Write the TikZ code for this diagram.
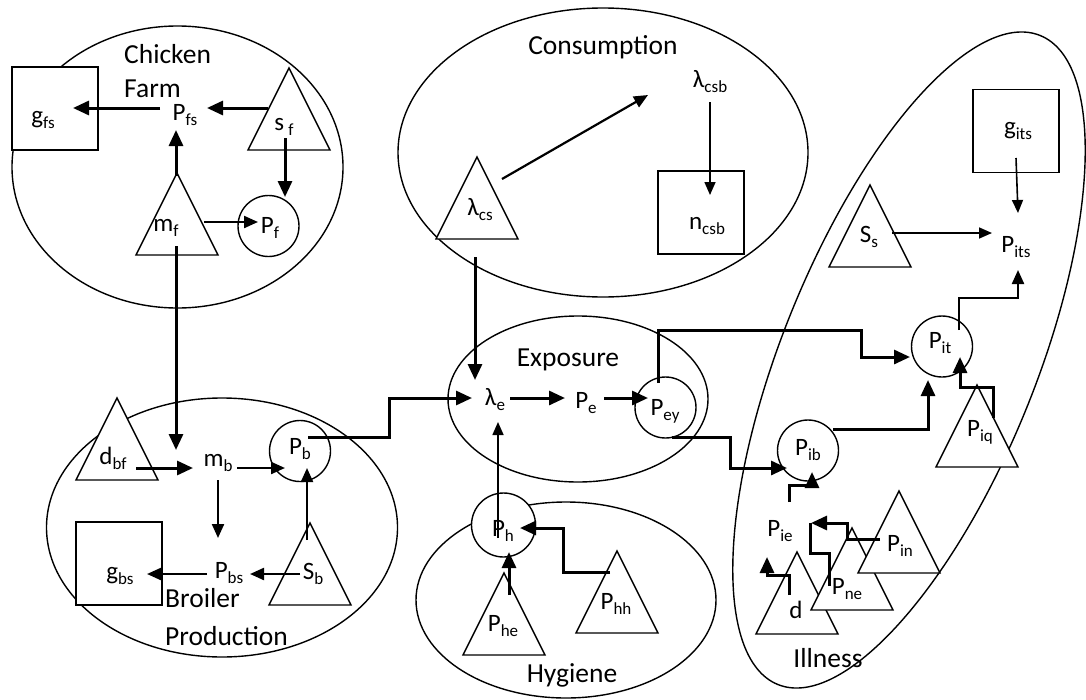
\documentclass[tikz,border=0pt]{standalone}
\usepackage{fontspec}
\setmainfont{Carlito}
\usetikzlibrary{arrows.meta,shapes.geometric}
\newcommand{\sbs}[1]{\raisebox{-5pt}{\fontsize{17}{17}\selectfont #1}}
\newcommand{\trishape}[3]{\draw[shp] (#2,#3) coordinate (#1) -- ++(41,82) -- ++(-82,0) -- cycle;}
\tikzset{
  shp/.style={line width=1.4pt, fill=white},
  region/.style={draw, ellipse, line width=1.4pt, inner sep=0pt, outer sep=0pt},
  boxshape/.style={shp, draw, rectangle, inner sep=0pt, minimum width=86, minimum height=83},
  circshape/.style={shp, draw, circle, inner sep=0pt, minimum size=61},
  lbl/.style={font=\fontsize{27.5}{30}\selectfont, inner sep=0pt},
  var/.style={font=\fontsize{25}{28}\selectfont, inner sep=0pt},
  thk/.style={line width=3pt, -{Triangle[length=16pt,width=14pt]}},
  mid/.style={line width=2.2pt, -{Triangle[length=14pt,width=12pt]}},
  thn/.style={line width=1.6pt, -{Triangle[length=13pt,width=11pt]}},
  thkline/.style={line width=3pt},
}
\begin{document}
\begin{tikzpicture}[x=1pt,y=-1pt]
\useasboundingbox (0,0) rectangle (1086,699);
% regions
\node[region, minimum width=331, minimum height=282] (chick) at (177.5,167) {};
\node[region, minimum width=351, minimum height=259] (broil) at (222,527.5) {};
\node[region, minimum width=410, minimum height=289] (consum) at (603,152.5) {};
\node[region, minimum width=260, minimum height=166] (expo) at (578,399) {};
\node[region, minimum width=300, minimum height=196] (hyg) at (566,600) {};
\node[region, minimum width=700, minimum height=254, rotate=68] (ill) at (909,360) {};
% boxes
\node[boxshape] (gfs) at (55,108.5) {};
\node[boxshape] (gbs) at (119,563.5) {};
\node[boxshape] (ncsb) at (701,212.5) {};
\node[boxshape] (gits) at (1016,131) {};
% triangles
\trishape{sf}{289}{68}
\trishape{mf}{177}{173}
\trishape{dbf}{117}{398}
\trishape{Sb}{310}{523}
\trishape{lcs}{477}{157}
\trishape{Phe}{504}{573}
\trishape{Phh}{617}{551}
\trishape{Ss}{870}{185}
\trishape{Piq}{977}{385}
\trishape{dd}{797}{552}
\trishape{Pne}{852}{528}
\trishape{Pin}{899}{491}
% circles
\node[circshape] (Pfc) at (268.5,226) {};
\node[circshape] (Pbc) at (300,451) {};
\node[circshape] (Peyc) at (665.5,407.5) {};
\node[circshape, minimum size=64] (Phc) at (503.5,525) {};
\node[circshape] (Pitc) at (942,346.5) {};
\node[circshape] (Pibc) at (808,450.5) {};
% labels
\node[lbl, anchor=west] (tChicken) at (124,54) {Chicken};
\node[lbl, anchor=west] (tFarm) at (124,89) {Farm};
\node[lbl, anchor=west] (tBroiler) at (165,598) {Broiler};
\node[lbl, anchor=west] (tProduction) at (165,636) {Production};
\node[lbl] (tConsumption) at (603,47) {Consumption};
\node[lbl] (tExposure) at (568,360) {Exposure};
\node[lbl] (tHygiene) at (572,675) {Hygiene};
\node[lbl] (tIllness) at (828,658) {Illness};
% variables
\node[var] (tgfs) at (43,120) {g\sbs{fs}};
\node[var] (tPfs) at (185,115) {P\sbs{fs}};
\node[var] (tsf) at (284,127) {s\,\sbs{f}};
\node[var] (tmf) at (166,228) {m\sbs{f}};
\node[var] (tPf) at (270,228) {P\sbs{f}};
\node[var] (tdbf) at (113,458) {d\sbs{bf}};
\node[var] (tmb) at (218,463) {m\sbs{b}};
\node[var] (tPb) at (300,449) {P\sbs{b}};
\node[var] (tgbs) at (120,576) {g\sbs{bs}};
\node[var] (tPbs) at (229,573) {P\sbs{bs}};
\node[var] (tSb) at (313,574) {S\sbs{b}};
\node[var] (tlcs) at (480,210) {λ\sbs{cs}};
\node[var] (tlcsb) at (710,82) {λ\sbs{csb}};
\node[var] (tncsb) at (707,226) {n\sbs{csb}};
\node[var] (tle) at (495,400) {λ\sbs{e}};
\node[var] (tPe) at (586,403) {P\sbs{e}};
\node[var] (tPey) at (665,411) {P\sbs{ey}};
\node[var] (tPh) at (503,531) {P\sbs{h}};
\node[var] (tPhe) at (503,626) {P\sbs{he}};
\node[var] (tPhh) at (616,604) {P\sbs{hh}};
\node[var] (tgits) at (1018,131) {g\sbs{its}};
\node[var] (tSs) at (869,237) {S\sbs{s}};
\node[var] (tPits) at (1016,247) {P\sbs{its}};
\node[var] (tPit) at (940,343) {P\sbs{it}};
\node[var] (tPib) at (808,450) {P\sbs{ib}};
\node[var] (tPiq) at (980,432) {P\sbs{iq}};
\node[var] (tPie) at (780,531) {P\sbs{ie}};
\node[var] (td) at (796,610) {d};
\node[var] (tPne) at (847,589) {P\sbs{ne}};
\node[var] (tPin) at (900,546) {P\sbs{in}};
% connectors
\draw[thk] (160,108) -- (73,108);
\draw[thk] (268,108) -- (207,108);
\draw[thk] (285,138) -- (285,197);
\draw[thk] (176,176) -- (176,130);
\draw[mid] (204,222) -- (258,222);
\draw[thk] (176,246) -- (176,450);
\draw[thk] (136,468) -- (193,468);
\draw[mid] (237,468) -- (285,468);
\draw[mid] (218,480) -- (218,538);
\draw[mid] (307,540) -- (307,468);
\draw[mid] (300,574) -- (250,574);
\draw[mid] (207,574) -- (147,574);
\draw[thk] (308,437) -- (389,437) -- (389,398) -- (472,398);
\draw[thk] (475,257) -- (475,380);
\draw[mid] (502,179) -- (648,95);
\draw[thn] (710,102) -- (710,195);
\draw[thk] (510,398) -- (565,398);
\draw[thk] (604,398) -- (648,398);
\draw[thn] (498,538) -- (498,422);
\draw[thk] (509,595) -- (509,552);
\draw[thk] (610,572) -- (563,572) -- (563,528) -- (520,528);
\draw[thk] (658,383) -- (658,330) -- (861,330) -- (861,357) -- (910,357);
\draw[thk] (672,437) -- (730,437) -- (730,468) -- (787,468);
\draw[thk] (833,429) -- (928,429) -- (928,380);
\draw[mid] (959,330) -- (959,298) -- (1018,298) -- (1018,270);
\draw[thk] (993,418) -- (993,387) -- (960,387) -- (960,357);
\draw[thn] (1016,158) -- (1018,213);
\draw[thn] (892,233) -- (992,233);
\draw[thk] (789,502) -- (789,485) -- (812,485) -- (812,472);
\draw[thk] (789,595) -- (789,575) -- (767,575) -- (767,557);
\draw[thk] (880,539) -- (847,539) -- (847,523) -- (811,523);
\draw[thkline] (829,586) -- (829,553) -- (810,553) -- (810,523);
\end{tikzpicture}
\end{document}
